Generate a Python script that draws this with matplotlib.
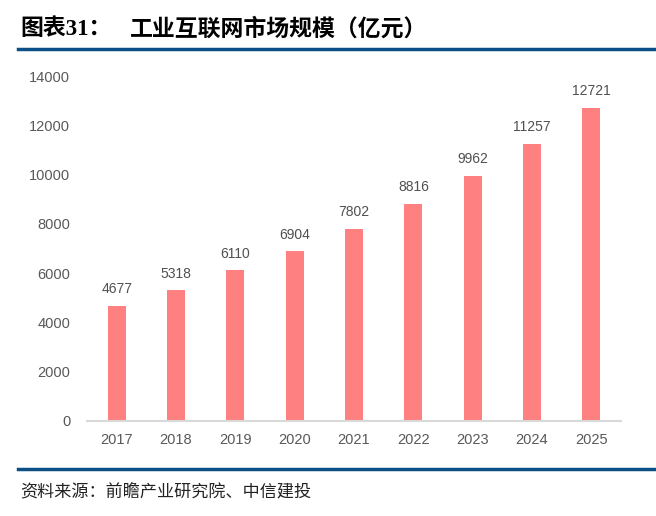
import matplotlib.pyplot as plt
from matplotlib.lines import Line2D

years = ['2017', '2018', '2019', '2020', '2021', '2022', '2023', '2024', '2025']
market_size = [4677, 5318, 6110, 6904, 7802, 8816, 9962, 11257, 12721]

title_prefix = '图表31：'
title_main = '工业互联网市场规模（亿元）'
source_text = '资料来源：前瞻产业研究院、中信建投'

bar_color = '#FF8080'
blue = '#0B4F86'
tick_color = '#595959'

fig = plt.figure(figsize=(6.56, 5.16), dpi=100)
ax = fig.add_axes([87 / 656, 95 / 516, 534 / 656, 345 / 516])

x = range(len(years))
bars = ax.bar(x, market_size, width=0.3, color=bar_color, zorder=2)
for xi, v in zip(x, market_size):
    ax.text(xi, v + 380, str(v), ha='center', va='bottom', fontsize=10,
            color='#505050', family='Liberation Sans')

ax.set_xlim(-0.5, len(years) - 0.5)
ax.set_ylim(0, 14000)
ax.set_yticks(range(0, 14001, 2000))
ax.set_xticks(list(x))
ax.set_xticklabels(years)
for lbl in ax.get_xticklabels() + ax.get_yticklabels():
    lbl.set_family('Liberation Sans')
    lbl.set_fontsize(10.5)
    lbl.set_color(tick_color)
ax.tick_params(axis='both', length=0)
ax.tick_params(axis='x', pad=9)
ax.tick_params(axis='y', pad=12)
for side in ['top', 'right', 'left']:
    ax.spines[side].set_visible(False)
ax.spines['bottom'].set_color('#D9D9D9')
ax.spines['bottom'].set_linewidth(1.5)

# header and footer
fig.text(20 / 656, 1 - 29 / 516, title_prefix, fontsize=16.5, fontweight='bold',
         family=['Liberation Serif', 'Noto Sans CJK SC'], va='center', ha='left')
fig.text(130 / 656, 1 - 29 / 516, title_main, fontsize=16.5, fontweight='bold',
         family=['Noto Sans CJK SC'], va='center', ha='left')
fig.add_artist(Line2D([18 / 656, 1], [1 - 49 / 516, 1 - 49 / 516], color=blue, lw=2.5))
fig.add_artist(Line2D([18 / 656, 1], [1 - 469 / 516, 1 - 469 / 516], color=blue, lw=2.5))
fig.text(20 / 656, 1 - 492 / 516, source_text, fontsize=12.3, style='italic',
         family=['Noto Sans CJK SC'], va='center', ha='left', color='#222222')

fig.savefig('out.png', dpi=100)
